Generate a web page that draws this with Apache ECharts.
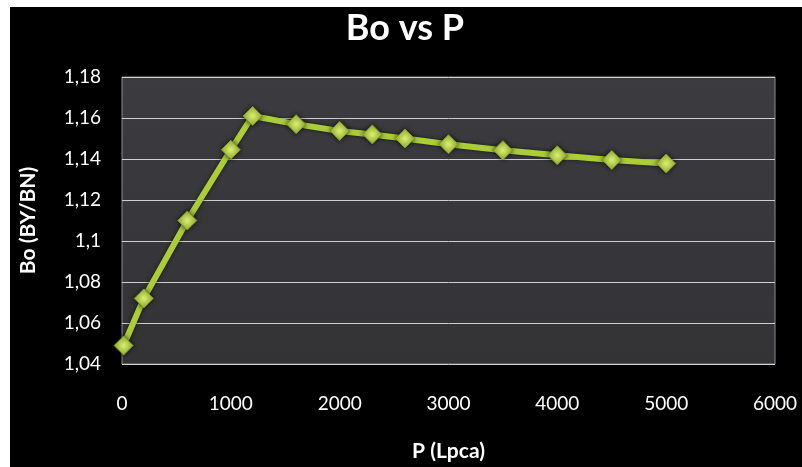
<!DOCTYPE html>
<html>
<head>
<meta charset="utf-8">
<script src="https://cdn.jsdelivr.net/npm/echarts@6/dist/echarts.min.js"></script>
<style>
  html, body { margin: 0; padding: 0; background: #ffffff; }
  #chart { position: absolute; left: 10px; top: 7px; width: 792px; height: 460px; background: #000000; }
</style>
</head>
<body>
<div id="chart"></div>
<script>
// Pressure (Lpca) and oil formation volume factor Bo (BY/BN)
const pressure = [14.7, 200, 600, 1000, 1200, 1600, 2000, 2300, 2600, 3000, 3500, 4000, 4500, 5000];
const bo = [1.049, 1.072, 1.110, 1.1445, 1.161, 1.157, 1.1537, 1.152, 1.150, 1.1472, 1.1443, 1.1418, 1.1395, 1.1378];

const xTicks = { min: 0, max: 6000, step: 1000 };
const yTicks = { min: 1.04, max: 1.18, step: 0.02 };

const titleText = 'Bo vs P';
const xName = 'P (Lpca)';
const yName = 'Bo (BY/BN)';

const font = 'Lato, "Open Sans", sans-serif';
const points = pressure.map((p, i) => [p, bo[i]]);

const chart = echarts.init(document.getElementById('chart'));
chart.setOption({
  backgroundColor: '#000000',
  animation: false,
  title: {
    text: titleText,
    left: 390, top: -2, textAlign: 'center',
    textStyle: { color: '#ffffff', fontSize: 36, fontWeight: 'bold', fontFamily: font }
  },
  grid: {
    left: 107, top: 70, width: 658, height: 291,
    show: true,
    borderColor: '#8c8c8c', borderWidth: 1,
    backgroundColor: new echarts.graphic.LinearGradient(0, 0, 0, 1, [
      { offset: 0, color: '#3c3c40' },
      { offset: 1, color: '#333336' }
    ])
  },
  xAxis: {
    type: 'value',
    min: xTicks.min, max: xTicks.max, interval: xTicks.step,
    name: xName, nameLocation: 'middle', nameGap: 77,
    nameTextStyle: { color: '#ffffff', fontSize: 21, fontWeight: 'bold', fontFamily: font },
    axisLine: { show: false },
    axisTick: { show: false },
    splitLine: { show: false },
    axisLabel: { color: '#ffffff', fontSize: 19, margin: 30, fontFamily: font,
      formatter: v => String(v) }
  },
  yAxis: {
    type: 'value',
    min: yTicks.min, max: yTicks.max, interval: yTicks.step,
    name: yName, nameLocation: 'middle', nameGap: 83,
    nameTextStyle: { color: '#ffffff', fontSize: 21, fontWeight: 'bold', fontFamily: font },
    axisLine: { show: false },
    axisTick: { show: false },
    splitLine: { show: true, lineStyle: { color: '#cfcfcf', width: 1 } },
    axisLabel: {
      color: '#ffffff', fontSize: 19, margin: 21, fontFamily: font,
      formatter: v => String(+v.toFixed(2)).replace('.', ',')
    }
  },
  series: [{
    type: 'line',
    data: points,
    lineStyle: { color: '#aacd38', width: 6, shadowColor: 'rgba(0,0,0,0.6)', shadowBlur: 4 },
    symbol: 'diamond',
    symbolSize: 19,
    itemStyle: {
      color: new echarts.graphic.RadialGradient(0.5, 0.5, 0.6, [
        { offset: 0, color: '#daef70' },
        { offset: 1, color: '#98b82c' }
      ]),
      borderColor: '#7f9a22', borderWidth: 1,
      shadowColor: 'rgba(0,0,0,0.7)', shadowBlur: 5
    }
  }]
});
</script>
</body>
</html>
